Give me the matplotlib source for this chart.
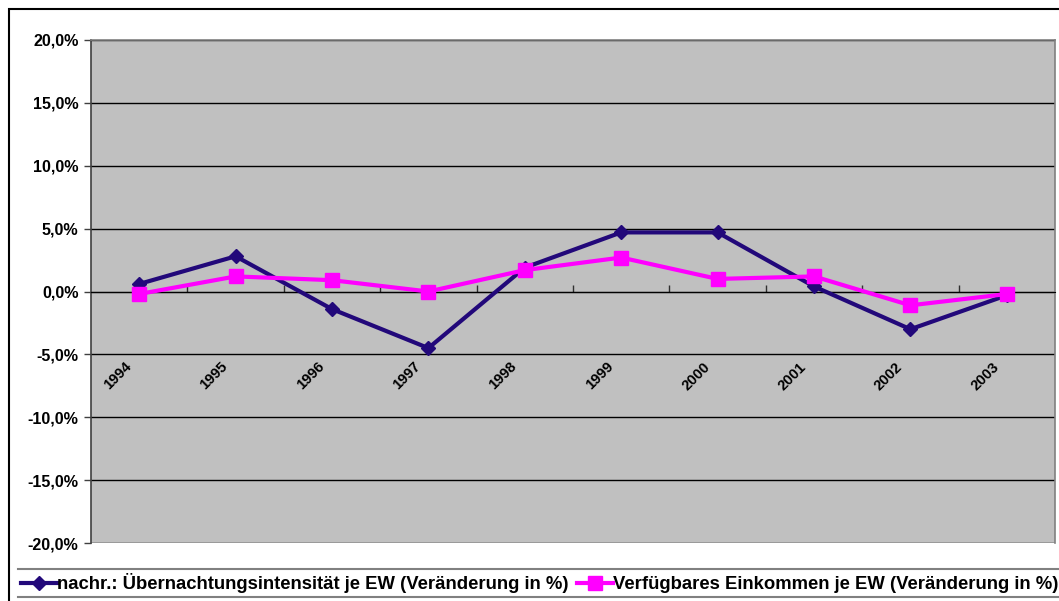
import matplotlib.pyplot as plt
import matplotlib.transforms as mtransforms
from matplotlib.patches import Rectangle
from matplotlib.lines import Line2D
import numpy as np

jahre = ['1994', '1995', '1996', '1997', '1998', '1999', '2000', '2001', '2002', '2003']
uebernachtung = [0.6, 2.8, -1.4, -4.5, 1.9, 4.7, 4.7, 0.4, -3.0, -0.3]
einkommen = [-0.2, 1.2, 0.9, 0.0, 1.7, 2.7, 1.0, 1.2, -1.1, -0.2]
y_ticks = [-20, -15, -10, -5, 0, 5, 10, 15, 20]
y_labels = ['-20,0%', '-15,0%', '-10,0%', '-5,0%', '0,0%', '5,0%', '10,0%', '15,0%', '20,0%']
label_blau = 'nachr.: Übernachtungsintensität je EW (Veränderung in %)'
label_pink = 'Verfügbares Einkommen je EW (Veränderung in %)'

blau = '#22087a'
pink = '#ff00ff'

plt.rcParams['font.family'] = ['Liberation Sans', 'DejaVu Sans']
plt.rcParams['font.weight'] = 'bold'

W, H = 1059, 601
fig = plt.figure(figsize=(W / 100, H / 100), dpi=100)
fig.patch.set_facecolor('white')

# outer frame of the chart object
fig.add_artist(Rectangle((8.5 / W, -0.01), 1.1, (H - 8.5) / H + 0.01, transform=fig.transFigure,
                         fill=False, edgecolor='black', linewidth=1.5))

ax = fig.add_axes([91 / W, (H - 543) / H, (1055 - 91) / W, (543 - 40) / H])
ax.set_facecolor('#c0c0c0')

x = np.arange(len(jahre))
ax.set_xlim(-0.5, len(jahre) - 0.5)
ax.set_ylim(-20, 20)

ax.set_yticks(y_ticks, y_labels, fontsize=11.6, fontweight='bold')
ax.yaxis.grid(True, color='black', linewidth=1)
ax.set_axisbelow(True)
ax.tick_params(axis='y', length=5, width=1, color='#404040', pad=4)

for s in ['top', 'right']:
    ax.spines[s].set_color('#808080')
    ax.spines[s].set_linewidth(1.2)
ax.spines['left'].set_color('#404040')
ax.spines['left'].set_linewidth(1.2)
ax.spines['bottom'].set_position(('data', 0))
ax.spines['bottom'].set_color('black')

# category boundaries as ticks, labels at centers
ax.set_xticks(np.arange(0.5, len(jahre) - 0.5, 1), minor=True)
ax.tick_params(axis='x', which='minor', length=5, width=1, direction='in', color='#303030')
ax.set_xticks(x, jahre, rotation=45, ha='right', va='top', fontsize=10.6, fontweight='bold')
ax.tick_params(axis='x', which='major', length=0, pad=49)
shift = mtransforms.ScaledTranslation(-5 / 100, 0, fig.dpi_scale_trans)
for lab in ax.get_xticklabels():
    lab.set_transform(lab.get_transform() + shift)

ax.plot(x, uebernachtung, color=blau, linewidth=3, marker='D', markersize=7, zorder=3)
ax.plot(x, einkommen, color=pink, linewidth=3, marker='s', markersize=10, zorder=4)

# legend strip at the bottom
fig.add_artist(Line2D([18 / W, 1.0], [(H - 569) / H] * 2, transform=fig.transFigure, color='#808080', linewidth=1.5))
fig.add_artist(Line2D([18 / W, 1.0], [(H - 597) / H] * 2, transform=fig.transFigure, color='#808080', linewidth=1.5))
ly = (H - 583) / H
base = (H - 589) / H
fig.add_artist(Line2D([21 / W, 39 / W, 57 / W], [ly, ly, ly], transform=fig.transFigure, color=blau,
                      linewidth=3, marker='D', markersize=7, markevery=[1]))
fig.text(57 / W, base, label_blau, fontsize=13.3, fontweight='bold', va='baseline', ha='left')
fig.add_artist(Line2D([577 / W, 595 / W, 613 / W], [ly, ly, ly], transform=fig.transFigure, color=pink,
                      linewidth=3, marker='s', markersize=10, markevery=[1]))
fig.text(613 / W, base, label_pink, fontsize=13.3, fontweight='bold', va='baseline', ha='left')

fig.savefig('out.png', dpi=100)
